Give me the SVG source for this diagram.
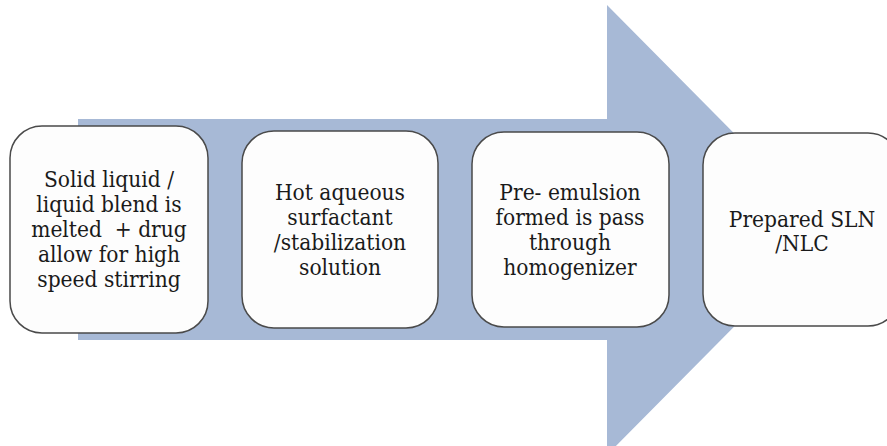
<svg xmlns="http://www.w3.org/2000/svg" width="887" height="446" viewBox="0 0 887 446">
  <style>
    .box { fill: #fdfdfd; stroke: #4a4a4a; stroke-width: 1.5; }
    .lbl { font-family: "DejaVu Serif Condensed", "DejaVu Serif", serif; font-size: 22.5px; fill: #1a1a1a; text-anchor: middle; white-space: pre; }
  </style>
  <rect width="887" height="446" fill="#ffffff"/>
  <g id="connectors">
    <polygon points="78,119 607,119 607,5 830,230 607,455 607,340 78,340" fill="#a7b9d6"/>
  </g>
  <g id="node1">
    <rect class="box" x="10" y="126" width="198" height="207" rx="32" ry="32"/>
    <text class="lbl" x="109" y="187">Solid liquid /</text>
    <text class="lbl" x="109" y="212">liquid blend is</text>
    <text class="lbl" x="109" y="237">melted  + drug</text>
    <text class="lbl" x="109" y="262">allow for high</text>
    <text class="lbl" x="109" y="287">speed stirring</text>
  </g>
  <g id="node2">
    <rect class="box" x="242" y="131" width="196" height="197" rx="32" ry="32"/>
    <text class="lbl" x="340" y="200">Hot aqueous</text>
    <text class="lbl" x="340" y="225">surfactant</text>
    <text class="lbl" x="340" y="250">/stabilization</text>
    <text class="lbl" x="340" y="275">solution</text>
  </g>
  <g id="node3">
    <rect class="box" x="472" y="132" width="197" height="195" rx="32" ry="32"/>
    <text class="lbl" x="570" y="200">Pre- emulsion</text>
    <text class="lbl" x="570" y="225">formed is pass</text>
    <text class="lbl" x="570" y="250">through</text>
    <text class="lbl" x="570" y="275">homogenizer</text>
  </g>
  <g id="node4">
    <rect class="box" x="703" y="133" width="197" height="193" rx="32" ry="32"/>
    <text class="lbl" x="802" y="227">Prepared SLN</text>
    <text class="lbl" x="802" y="251">/NLC</text>
  </g>
</svg>
